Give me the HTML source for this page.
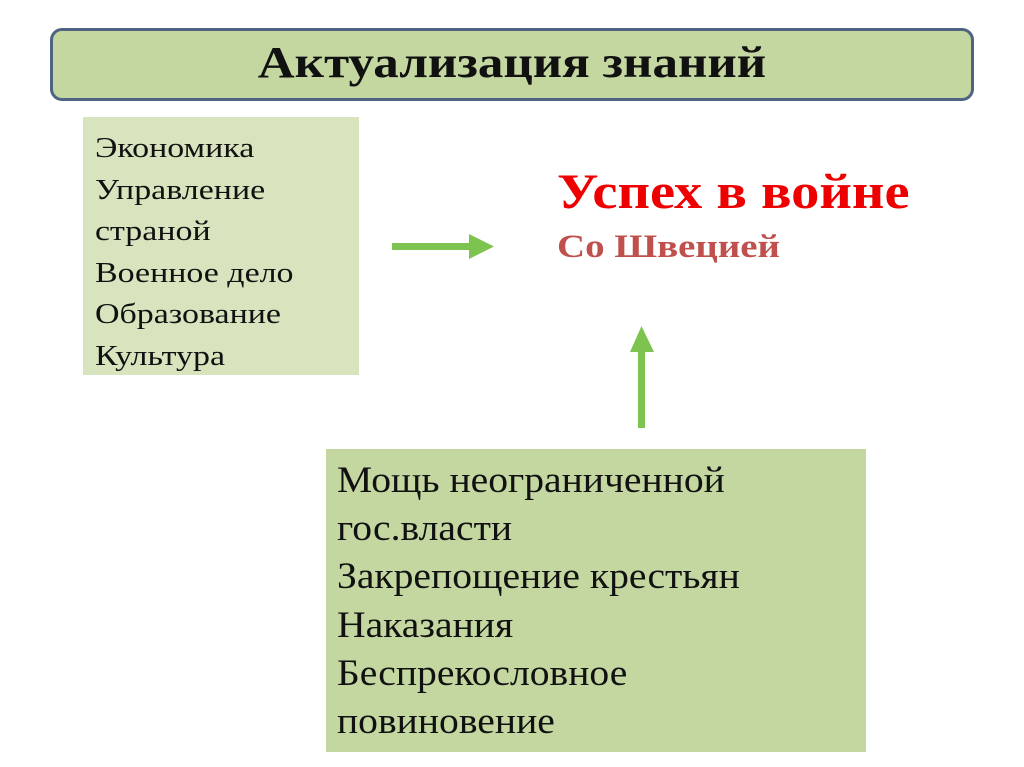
<!DOCTYPE html>
<html><head><meta charset="utf-8"><style>
html,body{margin:0;padding:0;background:#fff;}
body{width:1024px;height:767px;position:relative;overflow:hidden;font-family:"Liberation Serif",serif;}
.t{position:absolute;left:50px;top:28px;width:918px;height:67px;background:#c4d7a0;border:3px solid #4f6480;border-radius:12px;}
.t span{position:absolute;left:0;width:918px;text-align:center;font-weight:bold;font-size:44px;line-height:64px;color:#111;transform:scaleX(1.16);}
.l{position:absolute;left:83px;top:117px;width:276px;height:258px;background:#d7e4bd;}
.l div{position:absolute;left:12px;top:11px;font-size:29px;line-height:41.5px;color:#111;transform:scaleX(1.17);transform-origin:0 0;white-space:nowrap;}
.b{position:absolute;left:326px;top:449px;width:540px;height:303px;background:#c4d7a0;}
.b div{position:absolute;left:11px;top:8px;font-size:37px;line-height:48.2px;color:#111;transform:scaleX(1.07);transform-origin:0 0;white-space:nowrap;}
.r1{position:absolute;left:557px;top:163px;font-size:50px;font-weight:bold;color:#ee0000;line-height:56px;transform:scaleX(1.13);transform-origin:0 0;white-space:nowrap;}
.r2{position:absolute;left:557px;top:227px;font-size:33px;font-weight:bold;color:#c0504d;line-height:40px;transform:scaleX(1.18);transform-origin:0 0;white-space:nowrap;}
</style></head><body>
<div class="t"><span>Актуализация знаний</span></div>
<div class="l"><div>Экономика<br>Управление<br>страной<br>Военное дело<br>Образование<br>Культура</div></div>
<div class="r1">Успех в войне</div>
<div class="r2">Со Швецией</div>
<svg style="position:absolute;left:0;top:0" width="1024" height="767">
<rect x="392" y="243" width="78" height="7" fill="#7cc44f"/>
<polygon points="469,234 494,246.5 469,259" fill="#7cc44f"/>
<rect x="638" y="351" width="7" height="77" fill="#7cc44f"/>
<polygon points="630,352 641.5,326 654,352" fill="#7cc44f"/>
</svg>
<div class="b"><div>Мощь неограниченной<br>гос.власти<br>Закрепощение крестьян<br>Наказания<br>Беспрекословное<br>повиновение</div></div>
</body></html>
